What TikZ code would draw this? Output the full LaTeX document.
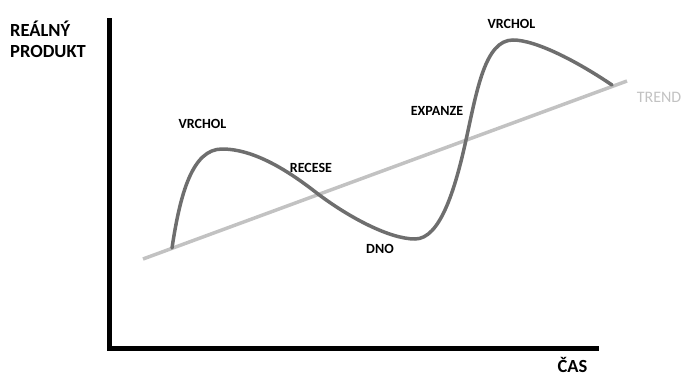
\documentclass[tikz,border=0pt]{standalone}
\usepackage{fontspec}
\setmainfont{Carlito}
\usetikzlibrary{arrows.meta}

\begin{document}
\begin{tikzpicture}[x=1pt,y=-1pt,
    axis/.style={line width=5.5pt,line join=miter},
    cycle/.style={line width=3.5pt,draw=black!57,line cap=round},
    trendline/.style={line width=3.5pt,draw=black!24},
    lbl/.style={font=\bfseries\fontsize{14}{16}\selectfont,inner sep=0pt,anchor=base},
    axlbl/.style={font=\bfseries\fontsize{18.5}{21}\selectfont,inner sep=0pt}]
    \useasboundingbox (0,0) rectangle (683,378);
    \coordinate (y_top) at (109.5,18);
    \coordinate (o) at (109.5,348.5);
    \coordinate (x_end) at (599,348.5);
    \coordinate (t_0) at (143,259);
    \coordinate (t_1) at (627,81);
    \coordinate (c_0) at (172,248);
    \coordinate (c_1) at (222,149);
    \coordinate (c_2) at (318,194);
    \coordinate (c_3) at (415,239);
    \coordinate (c_4) at (466,140);
    \coordinate (c_5) at (513,40);
    \coordinate (c_6) at (612,85);
    \draw[axis] (y_top) -- (o) -- (x_end);
    \draw[trendline] (t_0) -- (t_1);
    \draw[cycle] (c_0) .. controls (180,195) and (192,149) .. (c_1)
        .. controls (255,149) and (290,172) .. (c_2)
        .. controls (350,218) and (390,239) .. (c_3)
        .. controls (440,239) and (455,190) .. (c_4)
        .. controls (477,90) and (485,40) .. (c_5)
        .. controls (535,40) and (575,60) .. (c_6);
    \node[axlbl,anchor=base west] (y_1) at (10,36) {REÁLNÝ};
    \node[axlbl,anchor=base west] (y_2) at (10,57.5) {PRODUKT};
    \node[axlbl,anchor=base] (x_lbl) at (572.5,372) {ČAS};
    \node[lbl] (peak_1) at (202.5,128) {VRCHOL};
    \node[lbl] (recession) at (311,172) {RECESE};
    \node[lbl] (trough) at (380,253) {DNO};
    \node[lbl] (expansion) at (437,115) {EXPANZE};
    \node[lbl] (peak_2) at (511.5,28) {VRCHOL};
    \node[anchor=base,inner sep=0pt,text=black!24,font=\fontsize{16}{18}\selectfont] (trend) at (659,102) {TREND};
\end{tikzpicture}
\end{document}
